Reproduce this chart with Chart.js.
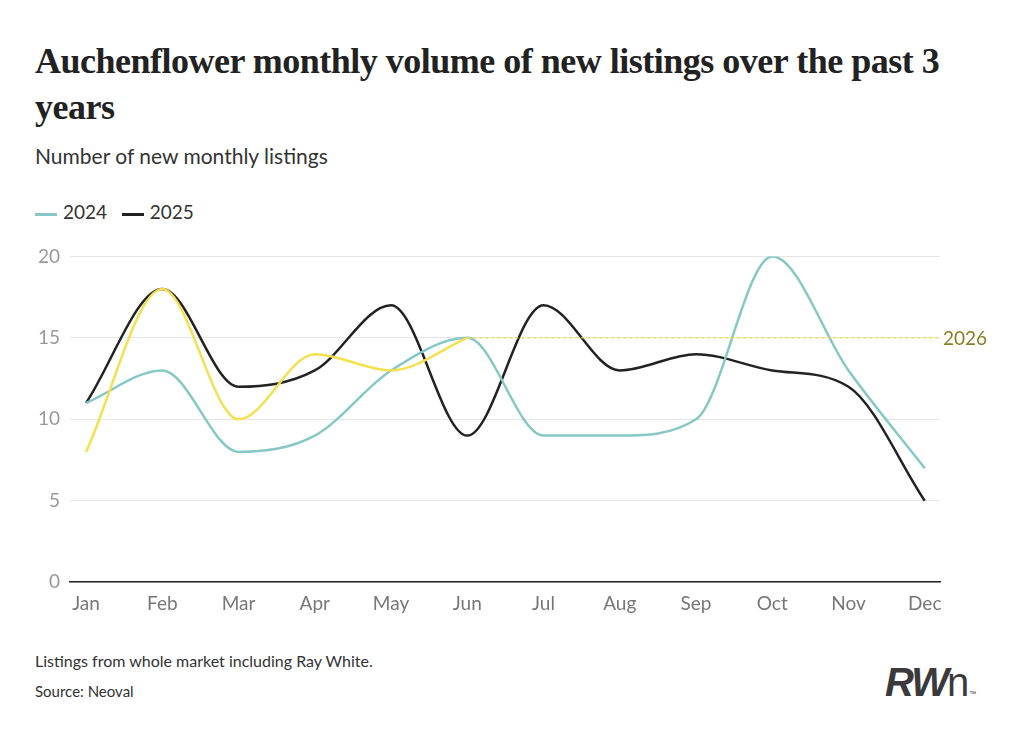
<!DOCTYPE html>
<html>
<head>
<meta charset="utf-8">
<script src="https://cdn.jsdelivr.net/npm/chart.js@4"></script>
<style>
  body { margin: 0; background: #fff; width: 1028px; height: 740px; position: relative; font-family: Lato, sans-serif; overflow: hidden; }
  h1 { position: absolute; left: 35px; top: 38px; margin: 0; width: 975px; font-family: "Liberation Serif", serif; font-weight: bold; font-size: 36px; line-height: 46px; color: #222; letter-spacing: -0.5px; }
  .sub { position: absolute; left: 35px; top: 143px; font-size: 21px; color: #333; }
  .legend { position: absolute; left: 35px; top: 200px; font-size: 19px; color: #333; }
  .legend span.sw { display: inline-block; width: 22px; height: 3px; vertical-align: middle; margin-right: 6px; }
  .foot1 { position: absolute; left: 35px; top: 651px; font-size: 16px; color: #333; }
  .foot2 { position: absolute; left: 35px; top: 682px; font-size: 15px; color: #333; }
  .logo { position: absolute; left: 885px; top: 660px; font-size: 40px; color: #3a3a3d; font-family: "Liberation Sans", sans-serif; }
  .logo b { font-style: italic; font-weight: 900; letter-spacing: -2px; }
  #wrap { position: absolute; left: 28px; top: 235px; width: 970px; height: 390px; }
</style>
</head>
<body>
<h1>Auchenflower monthly volume of new listings over the past 3 years</h1>
<div class="sub">Number of new monthly listings</div>
<div class="legend"><span class="sw" style="background:#86c8c6"></span>2024 &nbsp;&nbsp;<span class="sw" style="background:#222"></span>2025</div>
<div id="wrap"><canvas id="c"></canvas></div>
<div class="foot1">Listings from whole market including Ray White.</div>
<div class="foot2">Source: Neoval</div>
<div class="logo"><b>RW</b><span style="font-weight:300">n</span><span style="font-size:7px">™</span></div>
<script>
const months = ['Jan','Feb','Mar','Apr','May','Jun','Jul','Aug','Sep','Oct','Nov','Dec'];
const y2024 = [11, 13, 8, 9, 13, 15, 9, 9, 10, 20, 13, 7];
const y2025 = [11, 18, 12, 13, 17, 9, 17, 13, 14, 13, 12, 5];
const y2026 = [8, 18, 10, 14, 13, 15, null, null, null, null, null, null];
const latest2026 = 15;

const pts = arr => arr.map((v, i) => ({ x: i, y: v }));

const refLine = {
  id: 'refLine',
  afterDatasetsDraw(chart) {
    const { ctx, chartArea, scales } = chart;
    const x0 = scales.x.getPixelForValue(5);
    const y = scales.y.getPixelForValue(latest2026);
    ctx.save();
    ctx.strokeStyle = '#f5dc3c';
    ctx.lineWidth = 1.3;
    ctx.setLineDash([3, 3]);
    ctx.beginPath(); ctx.moveTo(x0, y); ctx.lineTo(chartArea.right, y); ctx.stroke();
    ctx.setLineDash([]);
    ctx.fillStyle = '#8a7d22';
    ctx.font = '19px Lato';
    ctx.textBaseline = 'middle';
    ctx.fillText('2026', chartArea.right + 3, y + 1);
    ctx.restore();
  }
};

new Chart(document.getElementById('c'), {
  type: 'line',
  data: {
    datasets: [
      { label: '2026', data: pts(y2026), borderColor: '#f5e04f', borderWidth: 2.5 },
      { label: '2024', data: pts(y2024), borderColor: '#86c8c6', borderWidth: 2.5 },
      { label: '2025', data: pts(y2025), borderColor: '#222222', borderWidth: 2.5 }
    ]
  },
  options: {
    responsive: true, maintainAspectRatio: false, animation: false,
    layout: { padding: { left: 0, right: 58, top: 8, bottom: 0 } },
    elements: { point: { radius: 0 }, line: { tension: 0.4, cubicInterpolationMode: 'monotone' } },
    plugins: { legend: { display: false }, tooltip: { enabled: false } },
    scales: {
      x: {
        type: 'linear', min: -0.21, max: 11.2,
        afterBuildTicks: s => { s.ticks = months.map((m, i) => ({ value: i })); },
        grid: { display: false, drawTicks: false },
        border: { color: '#222', width: 1.5 },
        ticks: { color: '#777', font: { family: 'Lato', size: 19 }, padding: 10, autoSkip: false, maxRotation: 0,
                 callback: v => months[v] }
      },
      y: {
        min: 0, max: 20,
        grid: { color: '#e6e6e6', drawTicks: false },
        border: { display: false },
        ticks: { stepSize: 5, color: '#999', font: { family: 'Lato', size: 19 }, padding: 10 }
      }
    }
  },
  plugins: [refLine]
});
</script>
</body>
</html>
